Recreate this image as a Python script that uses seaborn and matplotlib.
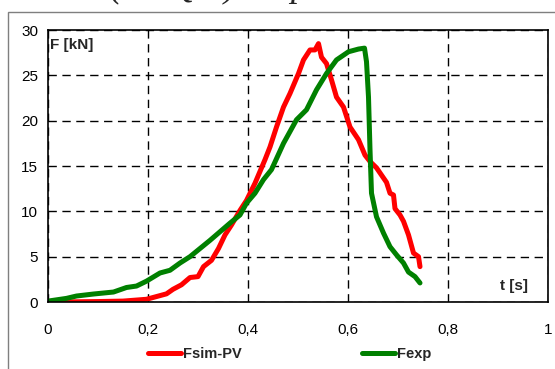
"""Kraft-Zeit-Verlauf: Simulation (Fsim-PV) gegen Experiment (Fexp)."""

import matplotlib
matplotlib.use("Agg")
import matplotlib.pyplot as plt
from matplotlib.patches import Rectangle
from matplotlib.ticker import FuncFormatter
import pandas as pd
import seaborn as sns

# --- Daten ----------------------------------------------------------------
red_t = [0.0, 0.05, 0.10, 0.15, 0.197, 0.237, 0.25, 0.267, 0.284, 0.30,
         0.311, 0.327, 0.341, 0.354, 0.367, 0.384, 0.397, 0.414, 0.424, 0.434,
         0.444, 0.457, 0.471, 0.484, 0.501, 0.511, 0.524, 0.534, 0.541, 0.547,
         0.557, 0.567, 0.577, 0.591, 0.604, 0.621, 0.634, 0.644, 0.657, 0.677,
         0.684, 0.691, 0.694, 0.704, 0.711, 0.721, 0.731, 0.741, 0.744]
red_F = [0.0, 0.02, 0.05, 0.1, 0.3, 0.9, 1.4, 1.9, 2.7, 2.8,
         3.9, 4.6, 5.9, 7.4, 8.5, 10.1, 11.2, 13.1, 14.4, 15.7,
         17.1, 19.3, 21.5, 23.0, 25.2, 26.7, 27.8, 27.8, 28.5, 27.0,
         26.3, 24.5, 22.6, 21.5, 19.3, 17.9, 16.2, 15.5, 14.8, 13.2,
         12.0, 11.8, 10.3, 9.6, 8.9, 7.4, 5.4, 5.0, 3.9]

green_t = [0.0, 0.037, 0.057, 0.091, 0.131, 0.157, 0.177, 0.197, 0.224, 0.244,
           0.264, 0.284, 0.304, 0.324, 0.344, 0.364, 0.384, 0.397, 0.414, 0.431,
           0.447, 0.471, 0.497, 0.517, 0.537, 0.557, 0.577, 0.601, 0.621, 0.633,
           0.637, 0.641, 0.644, 0.647, 0.657, 0.671, 0.684, 0.697, 0.711, 0.721,
           0.734, 0.744]
green_F = [0.1, 0.4, 0.66, 0.88, 1.1, 1.6, 1.76, 2.3, 3.2, 3.5,
           4.3, 5.0, 5.9, 6.8, 7.75, 8.7, 9.6, 10.9, 12.0, 13.5,
           14.6, 17.5, 20.1, 21.2, 23.4, 25.2, 26.7, 27.6, 27.9, 28.0,
           26.5, 22.6, 16.8, 12.0, 9.4, 7.6, 6.1, 5.2, 4.3, 3.3,
           2.8, 2.1]

x_ticks = [0, 0.2, 0.4, 0.6, 0.8, 1.0]
y_ticks = [0, 5, 10, 15, 20, 25, 30]

df = pd.concat([
    pd.DataFrame({"t": red_t, "F": red_F, "Serie": "Fsim-PV"}),
    pd.DataFrame({"t": green_t, "F": green_F, "Serie": "Fexp"}),
])

sns.set_style("white")
plt.rcParams["font.family"] = ["Liberation Sans", "DejaVu Sans"]

fig = plt.figure(figsize=(5.55, 3.69), dpi=100)
ax = fig.add_axes([48 / 555, 67 / 369, 500 / 555, 272 / 369])

sns.lineplot(
    data=df, x="t", y="F", hue="Serie",
    palette={"Fsim-PV": "#ff0000", "Fexp": "#008000"},
    estimator=None, sort=False, lw=3.6, ax=ax, legend=False,
)

ax.set_xlim(0, 1)
ax.set_ylim(0, 30)
ax.set_xticks(x_ticks)
ax.set_yticks(y_ticks)
ax.xaxis.set_major_formatter(FuncFormatter(lambda v, _: f"{v:g}".replace(".", ",")))
ax.tick_params(axis="both", direction="out", length=4, width=1, color="black",
               labelsize=11, labelcolor="black")
ax.tick_params(axis="x", pad=11)
ax.tick_params(axis="y", pad=3)
ax.set_xlabel("")
ax.set_ylabel("")
ax.grid(True, color="black", ls=(0, (6, 4)), lw=1)
for s in ax.spines.values():
    s.set_color("black")
    s.set_linewidth(1.2)

ax.text(0.004, 0.97, "F [kN]", transform=ax.transAxes, fontsize=11,
        fontweight="bold", va="top", ha="left")
ax.text(0.905, 0.06, "t [s]", transform=ax.transAxes, fontsize=11,
        fontweight="bold", va="center", ha="left")

# Legende unten
handles = [plt.Line2D([], [], color="#ff0000", lw=3.6),
           plt.Line2D([], [], color="#008000", lw=3.6)]
fig.legend(handles, ["Fsim-PV", "Fexp"], loc="center",
           bbox_to_anchor=(0.522, 0.04), ncol=2, frameon=False,
           handlelength=2.3, handletextpad=0.15, columnspacing=8.2,
           prop={"weight": "bold", "size": 10.5})

# Rahmen des Diagrammbereichs (rechts/unten abgeschnitten)
fig.patches.append(Rectangle((8 / 555, -0.1), 1.0, (369 - 12) / 369 + 0.1,
                             transform=fig.transFigure, fill=False,
                             edgecolor="#7f7f7f", lw=1))

# abgeschnittene Überschrift oben
for xp, s in [(110, "("), (170, "Q"), (224, ")"), (290, "p")]:
    fig.text(xp / 555, 1.0 + 4 / 369, s, fontsize=26, style="italic",
             family="Liberation Serif", va="baseline", ha="left")

fig.savefig("out.png", dpi=100)
